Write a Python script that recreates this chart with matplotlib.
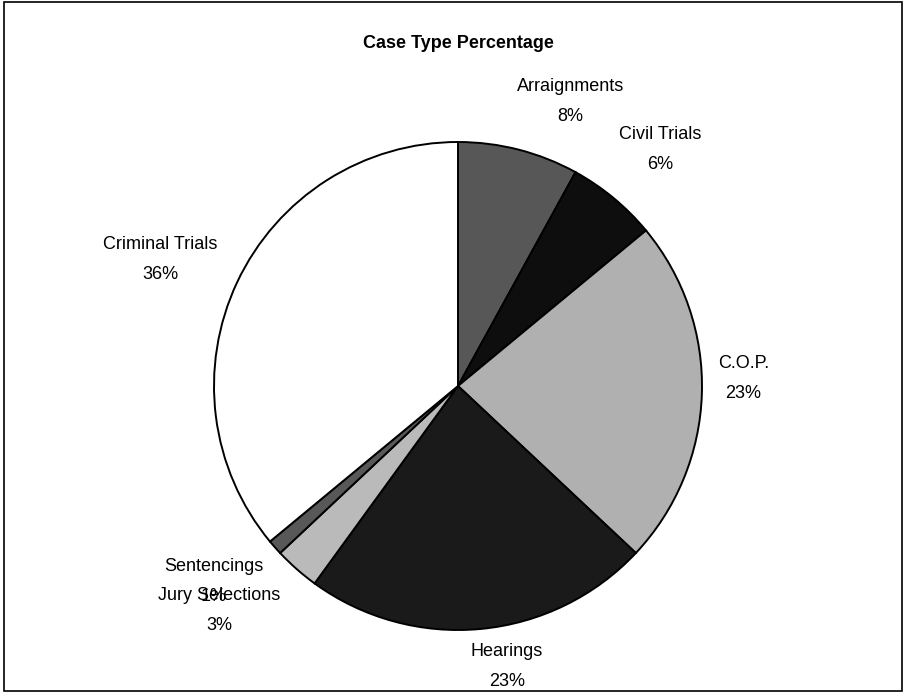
import numpy as np
import matplotlib
matplotlib.use("Agg")
import matplotlib.pyplot as plt
from matplotlib.patches import Rectangle

plt.rcParams['font.family'] = ['Liberation Sans', 'DejaVu Sans']

# slice data, clockwise from 12 o'clock
categories = ["Arraignments", "Civil Trials", "C.O.P.", "Hearings",
              "Jury Selections", "Sentencings", "Criminal Trials"]
percents = [8, 6, 23, 23, 3, 1, 36]
colors = ["#575757", "#0e0e0e", "#b0b0b0", "#1a1a1a",
          "#bababa", "#585858", "#ffffff"]

# label centres, in pie radii from the pie centre (layout only)
# (Sentencings' "1%" sits on top of "Jury Selections", as in the original)
label_xy = [(0.46, 1.165), (0.83, 0.97), (1.17, 0.03), (0.20, -1.15),
            (-0.98, -0.92), (-1.00, -0.80), (-1.22, 0.52)]

fig = plt.figure(figsize=(9.04, 6.92), dpi=100)
ax = fig.add_axes([0, 0, 1, 1])

wedges, _ = ax.pie(percents, colors=colors, startangle=90, counterclock=False,
                   wedgeprops=dict(edgecolor="black", linewidth=1.4))

# radius 1 = 244 px, pie centre at (458, 386) px from the top-left corner
r_px = 244.0
cx, cy = 458.0, 692 - 386.0
ax.set_xlim(-cx / r_px, (904 - cx) / r_px)
ax.set_ylim(-cy / r_px, (692 - cy) / r_px)
ax.set_aspect('auto')
ax.axis('off')

for name, p, (lx, ly) in zip(categories, percents, label_xy):
    ax.text(lx, ly, "%s\n%d%%" % (name, p), ha="center", va="center",
            fontsize=13, linespacing=2.0)

fig.text(0.507, 1 - 44 / 692, "Case Type Percentage", ha="center",
         va="center", fontsize=13, fontweight="bold")

# chart border
fig.patches.append(Rectangle((4 / 904, 1 / 692), 898 / 904, 689 / 692,
                             transform=fig.transFigure, fill=False,
                             edgecolor="black", linewidth=1.2))

fig.savefig("out.png", dpi=100)
